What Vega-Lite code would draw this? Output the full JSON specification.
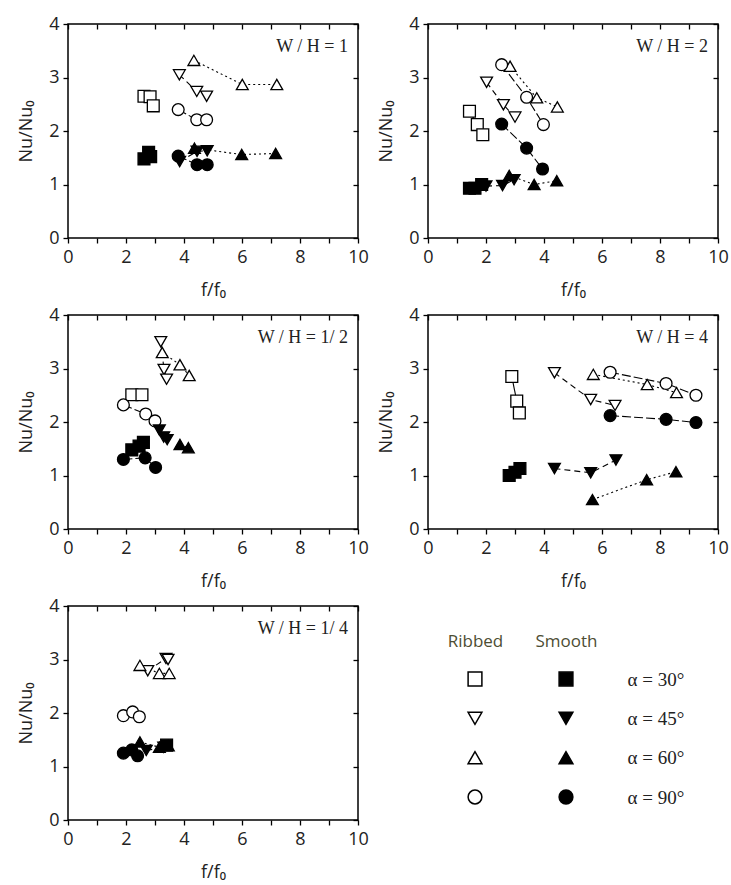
{
  "$schema": "https://vega.github.io/schema/vega-lite/v6.json",
  "padding": {"left": 16, "top": 14, "right": 0, "bottom": 0},
  "background": "white",
  "bounds": "flush",
  "columns": 2,
  "spacing": {"row": 77, "column": 70},
  "datasets": {
    "pts": [
      {"panel": "1", "surface": "Ribbed", "angle": 30, "f": 2.62, "nu": 2.65},
      {"panel": "1", "surface": "Ribbed", "angle": 30, "f": 2.83, "nu": 2.64},
      {"panel": "1", "surface": "Ribbed", "angle": 30, "f": 2.94, "nu": 2.47},
      {"panel": "1", "surface": "Ribbed", "angle": 45, "f": 3.84, "nu": 3.05},
      {"panel": "1", "surface": "Ribbed", "angle": 45, "f": 4.44, "nu": 2.74},
      {"panel": "1", "surface": "Ribbed", "angle": 45, "f": 4.78, "nu": 2.65},
      {"panel": "1", "surface": "Ribbed", "angle": 60, "f": 4.34, "nu": 3.32},
      {"panel": "1", "surface": "Ribbed", "angle": 60, "f": 6.01, "nu": 2.87},
      {"panel": "1", "surface": "Ribbed", "angle": 60, "f": 7.2, "nu": 2.87},
      {"panel": "1", "surface": "Ribbed", "angle": 90, "f": 3.8, "nu": 2.4},
      {"panel": "1", "surface": "Ribbed", "angle": 90, "f": 4.44, "nu": 2.21},
      {"panel": "1", "surface": "Ribbed", "angle": 90, "f": 4.78, "nu": 2.21},
      {"panel": "1", "surface": "Smooth", "angle": 30, "f": 2.62, "nu": 1.48},
      {"panel": "1", "surface": "Smooth", "angle": 30, "f": 2.78, "nu": 1.6},
      {"panel": "1", "surface": "Smooth", "angle": 30, "f": 2.85, "nu": 1.52},
      {"panel": "1", "surface": "Smooth", "angle": 45, "f": 3.85, "nu": 1.43},
      {"panel": "1", "surface": "Smooth", "angle": 45, "f": 4.45, "nu": 1.62},
      {"panel": "1", "surface": "Smooth", "angle": 45, "f": 4.8, "nu": 1.63},
      {"panel": "1", "surface": "Smooth", "angle": 60, "f": 4.36, "nu": 1.68},
      {"panel": "1", "surface": "Smooth", "angle": 60, "f": 5.99, "nu": 1.56},
      {"panel": "1", "surface": "Smooth", "angle": 60, "f": 7.16, "nu": 1.58},
      {"panel": "1", "surface": "Smooth", "angle": 90, "f": 3.8, "nu": 1.53},
      {"panel": "1", "surface": "Smooth", "angle": 90, "f": 4.45, "nu": 1.37},
      {"panel": "1", "surface": "Smooth", "angle": 90, "f": 4.8, "nu": 1.37},

      {"panel": "2", "surface": "Ribbed", "angle": 30, "f": 1.43, "nu": 2.37},
      {"panel": "2", "surface": "Ribbed", "angle": 30, "f": 1.7, "nu": 2.12},
      {"panel": "2", "surface": "Ribbed", "angle": 30, "f": 1.89, "nu": 1.93},
      {"panel": "2", "surface": "Ribbed", "angle": 45, "f": 2.02, "nu": 2.91},
      {"panel": "2", "surface": "Ribbed", "angle": 45, "f": 2.6, "nu": 2.49},
      {"panel": "2", "surface": "Ribbed", "angle": 45, "f": 3.0, "nu": 2.26},
      {"panel": "2", "surface": "Ribbed", "angle": 60, "f": 2.83, "nu": 3.21},
      {"panel": "2", "surface": "Ribbed", "angle": 60, "f": 3.75, "nu": 2.62},
      {"panel": "2", "surface": "Ribbed", "angle": 60, "f": 4.46, "nu": 2.45},
      {"panel": "2", "surface": "Ribbed", "angle": 90, "f": 2.54, "nu": 3.24},
      {"panel": "2", "surface": "Ribbed", "angle": 90, "f": 3.4, "nu": 2.63},
      {"panel": "2", "surface": "Ribbed", "angle": 90, "f": 3.98, "nu": 2.12},
      {"panel": "2", "surface": "Smooth", "angle": 30, "f": 1.43, "nu": 0.93},
      {"panel": "2", "surface": "Smooth", "angle": 30, "f": 1.62, "nu": 0.93},
      {"panel": "2", "surface": "Smooth", "angle": 30, "f": 1.85, "nu": 1.0},
      {"panel": "2", "surface": "Smooth", "angle": 45, "f": 2.0, "nu": 0.97},
      {"panel": "2", "surface": "Smooth", "angle": 45, "f": 2.57, "nu": 0.98},
      {"panel": "2", "surface": "Smooth", "angle": 45, "f": 2.97, "nu": 1.09},
      {"panel": "2", "surface": "Smooth", "angle": 60, "f": 2.8, "nu": 1.17},
      {"panel": "2", "surface": "Smooth", "angle": 60, "f": 3.66, "nu": 1.0},
      {"panel": "2", "surface": "Smooth", "angle": 60, "f": 4.44, "nu": 1.07},
      {"panel": "2", "surface": "Smooth", "angle": 90, "f": 2.54, "nu": 2.13},
      {"panel": "2", "surface": "Smooth", "angle": 90, "f": 3.4, "nu": 1.68},
      {"panel": "2", "surface": "Smooth", "angle": 90, "f": 3.95, "nu": 1.29},

      {"panel": "1/2", "surface": "Ribbed", "angle": 30, "f": 2.2, "nu": 2.51},
      {"panel": "1/2", "surface": "Ribbed", "angle": 30, "f": 2.55, "nu": 2.51},
      {"panel": "1/2", "surface": "Ribbed", "angle": 45, "f": 3.2, "nu": 3.5},
      {"panel": "1/2", "surface": "Ribbed", "angle": 45, "f": 3.31, "nu": 2.98},
      {"panel": "1/2", "surface": "Ribbed", "angle": 45, "f": 3.4, "nu": 2.8},
      {"panel": "1/2", "surface": "Ribbed", "angle": 60, "f": 3.25, "nu": 3.3},
      {"panel": "1/2", "surface": "Ribbed", "angle": 60, "f": 3.86, "nu": 3.07},
      {"panel": "1/2", "surface": "Ribbed", "angle": 60, "f": 4.18, "nu": 2.87},
      {"panel": "1/2", "surface": "Ribbed", "angle": 90, "f": 1.91, "nu": 2.32},
      {"panel": "1/2", "surface": "Ribbed", "angle": 90, "f": 2.68, "nu": 2.15},
      {"panel": "1/2", "surface": "Ribbed", "angle": 90, "f": 3.0, "nu": 2.02},
      {"panel": "1/2", "surface": "Smooth", "angle": 30, "f": 2.2, "nu": 1.48},
      {"panel": "1/2", "surface": "Smooth", "angle": 30, "f": 2.45, "nu": 1.55},
      {"panel": "1/2", "surface": "Smooth", "angle": 30, "f": 2.6, "nu": 1.62},
      {"panel": "1/2", "surface": "Smooth", "angle": 45, "f": 3.15, "nu": 1.85},
      {"panel": "1/2", "surface": "Smooth", "angle": 45, "f": 3.3, "nu": 1.72},
      {"panel": "1/2", "surface": "Smooth", "angle": 45, "f": 3.42, "nu": 1.67},
      {"panel": "1/2", "surface": "Smooth", "angle": 60, "f": 3.86, "nu": 1.58},
      {"panel": "1/2", "surface": "Smooth", "angle": 60, "f": 4.15, "nu": 1.52},
      {"panel": "1/2", "surface": "Smooth", "angle": 90, "f": 1.91, "nu": 1.3},
      {"panel": "1/2", "surface": "Smooth", "angle": 90, "f": 2.66, "nu": 1.33},
      {"panel": "1/2", "surface": "Smooth", "angle": 90, "f": 3.02, "nu": 1.15},

      {"panel": "4", "surface": "Ribbed", "angle": 30, "f": 2.89, "nu": 2.85},
      {"panel": "4", "surface": "Ribbed", "angle": 30, "f": 3.06, "nu": 2.39},
      {"panel": "4", "surface": "Ribbed", "angle": 30, "f": 3.15, "nu": 2.17},
      {"panel": "4", "surface": "Ribbed", "angle": 45, "f": 4.36, "nu": 2.92},
      {"panel": "4", "surface": "Ribbed", "angle": 45, "f": 5.61, "nu": 2.42},
      {"panel": "4", "surface": "Ribbed", "angle": 45, "f": 6.45, "nu": 2.31},
      {"panel": "4", "surface": "Ribbed", "angle": 60, "f": 5.7, "nu": 2.89},
      {"panel": "4", "surface": "Ribbed", "angle": 60, "f": 7.56, "nu": 2.7},
      {"panel": "4", "surface": "Ribbed", "angle": 60, "f": 8.57, "nu": 2.55},
      {"panel": "4", "surface": "Ribbed", "angle": 90, "f": 6.28, "nu": 2.93},
      {"panel": "4", "surface": "Ribbed", "angle": 90, "f": 8.21, "nu": 2.72},
      {"panel": "4", "surface": "Ribbed", "angle": 90, "f": 9.24, "nu": 2.5},
      {"panel": "4", "surface": "Smooth", "angle": 30, "f": 2.8, "nu": 1.0},
      {"panel": "4", "surface": "Smooth", "angle": 30, "f": 3.0, "nu": 1.06},
      {"panel": "4", "surface": "Smooth", "angle": 30, "f": 3.17, "nu": 1.13},
      {"panel": "4", "surface": "Smooth", "angle": 45, "f": 4.36, "nu": 1.13},
      {"panel": "4", "surface": "Smooth", "angle": 45, "f": 5.61, "nu": 1.05},
      {"panel": "4", "surface": "Smooth", "angle": 45, "f": 6.48, "nu": 1.29},
      {"panel": "4", "surface": "Smooth", "angle": 60, "f": 5.67, "nu": 0.55},
      {"panel": "4", "surface": "Smooth", "angle": 60, "f": 7.54, "nu": 0.92},
      {"panel": "4", "surface": "Smooth", "angle": 60, "f": 8.55, "nu": 1.07},
      {"panel": "4", "surface": "Smooth", "angle": 90, "f": 6.28, "nu": 2.12},
      {"panel": "4", "surface": "Smooth", "angle": 90, "f": 8.21, "nu": 2.05},
      {"panel": "4", "surface": "Smooth", "angle": 90, "f": 9.24, "nu": 1.99},

      {"panel": "1/4", "surface": "Ribbed", "angle": 45, "f": 2.75, "nu": 2.79},
      {"panel": "1/4", "surface": "Ribbed", "angle": 45, "f": 3.38, "nu": 3.02},
      {"panel": "1/4", "surface": "Ribbed", "angle": 45, "f": 3.45, "nu": 3.0},
      {"panel": "1/4", "surface": "Ribbed", "angle": 60, "f": 2.48, "nu": 2.89},
      {"panel": "1/4", "surface": "Ribbed", "angle": 60, "f": 3.15, "nu": 2.74},
      {"panel": "1/4", "surface": "Ribbed", "angle": 60, "f": 3.49, "nu": 2.74},
      {"panel": "1/4", "surface": "Ribbed", "angle": 90, "f": 1.91, "nu": 1.95},
      {"panel": "1/4", "surface": "Ribbed", "angle": 90, "f": 2.23, "nu": 2.02},
      {"panel": "1/4", "surface": "Ribbed", "angle": 90, "f": 2.46, "nu": 1.93},
      {"panel": "1/4", "surface": "Smooth", "angle": 30, "f": 3.4, "nu": 1.4},
      {"panel": "1/4", "surface": "Smooth", "angle": 45, "f": 2.7, "nu": 1.3},
      {"panel": "1/4", "surface": "Smooth", "angle": 45, "f": 3.3, "nu": 1.36},
      {"panel": "1/4", "surface": "Smooth", "angle": 60, "f": 2.48, "nu": 1.46},
      {"panel": "1/4", "surface": "Smooth", "angle": 60, "f": 3.15, "nu": 1.36},
      {"panel": "1/4", "surface": "Smooth", "angle": 60, "f": 3.46, "nu": 1.39},
      {"panel": "1/4", "surface": "Smooth", "angle": 90, "f": 1.91, "nu": 1.25},
      {"panel": "1/4", "surface": "Smooth", "angle": 90, "f": 2.2, "nu": 1.31},
      {"panel": "1/4", "surface": "Smooth", "angle": 90, "f": 2.4, "nu": 1.2}
    ],
    "legend": [
      {"surface": "Ribbed", "angle": 30}, {"surface": "Smooth", "angle": 30},
      {"surface": "Ribbed", "angle": 45}, {"surface": "Smooth", "angle": 45},
      {"surface": "Ribbed", "angle": 60}, {"surface": "Smooth", "angle": 60},
      {"surface": "Ribbed", "angle": 90}, {"surface": "Smooth", "angle": 90}
    ]
  },
  "concat": [
    {
      "width": 290, "height": 214,
      "data": {"name": "pts"},
      "transform": [{"filter": "datum.panel === '1'"}],
      "title": {"text": "W / H = 1", "anchor": "end", "frame": "group", "baseline": "middle", "offset": -19, "dx": -10, "dy": 31, "font": "Liberation Serif", "fontSize": 18, "fontWeight": "normal", "color": "#222"},
      "layer": [
        {"mark": {"type": "line", "color": "black", "strokeWidth": 1.1},
         "encoding": {
           "x": {"field": "f", "type": "quantitative", "scale": {"domain": [0, 10]}, "axis": {"orient": "bottom", "values": [0,1,2,3,4,5,6,7,8,9,10], "labelExpr": "datum.value % 2 === 0 ? datum.label : ''", "tickSize": 5, "labelPadding": 5, "labelFlush": false, "labelOverlap": false, "title": "f/f₀", "titlePadding": 15}},
           "y": {"field": "nu", "type": "quantitative", "scale": {"domain": [0, 4]}, "axis": {"orient": "left", "values": [0,1,2,3,4], "tickSize": 5, "labelPadding": 4, "labelFlush": false, "title": "Nu/Nu₀", "titlePadding": 13}},
           "detail": {"field": "surface", "type": "nominal"},
           "strokeDash": {"field": "angle", "type": "nominal", "scale": {"domain": [30,45,60,90], "range": [[1,0],[6,4],[2,3],[9,3]]}}
         }},
        {"mark": {"type": "point", "filled": true, "stroke": "black", "strokeWidth": 1.3, "size": 140, "opacity": 1},
         "encoding": {
           "x": {"field": "f", "type": "quantitative", "axis": {"orient": "top", "values": [0,1,2,3,4,5,6,7,8,9,10], "labels": false, "tickSize": -5, "title": null}},
           "y": {"field": "nu", "type": "quantitative", "axis": {"orient": "right", "values": [0,1,2,3,4], "labels": false, "tickSize": -5, "title": null}},
           "shape": {"field": "angle", "type": "nominal", "scale": {"domain": [30,45,60,90], "range": ["square","triangle-down","triangle-up","circle"]}},
           "fill": {"field": "surface", "type": "nominal", "scale": {"domain": ["Ribbed","Smooth"], "range": ["white","black"]}}
         }}
      ],
      "resolve": {"axis": {"x": "independent", "y": "independent"}}
    },
    {
      "width": 290, "height": 214,
      "data": {"name": "pts"},
      "transform": [{"filter": "datum.panel === '2'"}],
      "title": {"text": "W / H = 2", "anchor": "end", "frame": "group", "baseline": "middle", "offset": -19, "dx": -10, "dy": 31, "font": "Liberation Serif", "fontSize": 18, "fontWeight": "normal", "color": "#222"},
      "layer": [
        {"mark": {"type": "line", "color": "black", "strokeWidth": 1.1},
         "encoding": {
           "x": {"field": "f", "type": "quantitative", "scale": {"domain": [0, 10]}, "axis": {"orient": "bottom", "values": [0,1,2,3,4,5,6,7,8,9,10], "labelExpr": "datum.value % 2 === 0 ? datum.label : ''", "tickSize": 5, "labelPadding": 5, "labelFlush": false, "labelOverlap": false, "title": "f/f₀", "titlePadding": 15}},
           "y": {"field": "nu", "type": "quantitative", "scale": {"domain": [0, 4]}, "axis": {"orient": "left", "values": [0,1,2,3,4], "tickSize": 5, "labelPadding": 4, "labelFlush": false, "title": "Nu/Nu₀", "titlePadding": 13}},
           "detail": {"field": "surface", "type": "nominal"},
           "strokeDash": {"field": "angle", "type": "nominal", "scale": {"domain": [30,45,60,90], "range": [[1,0],[6,4],[2,3],[9,3]]}}
         }},
        {"mark": {"type": "point", "filled": true, "stroke": "black", "strokeWidth": 1.3, "size": 140, "opacity": 1},
         "encoding": {
           "x": {"field": "f", "type": "quantitative", "axis": {"orient": "top", "values": [0,1,2,3,4,5,6,7,8,9,10], "labels": false, "tickSize": -5, "title": null}},
           "y": {"field": "nu", "type": "quantitative", "axis": {"orient": "right", "values": [0,1,2,3,4], "labels": false, "tickSize": -5, "title": null}},
           "shape": {"field": "angle", "type": "nominal", "scale": {"domain": [30,45,60,90], "range": ["square","triangle-down","triangle-up","circle"]}},
           "fill": {"field": "surface", "type": "nominal", "scale": {"domain": ["Ribbed","Smooth"], "range": ["white","black"]}}
         }}
      ],
      "resolve": {"axis": {"x": "independent", "y": "independent"}}
    },
    {
      "width": 290, "height": 214,
      "data": {"name": "pts"},
      "transform": [{"filter": "datum.panel === '1/2'"}],
      "title": {"text": "W / H = 1/ 2", "anchor": "end", "frame": "group", "baseline": "middle", "offset": -19, "dx": -10, "dy": 31, "font": "Liberation Serif", "fontSize": 18, "fontWeight": "normal", "color": "#222"},
      "layer": [
        {"mark": {"type": "line", "color": "black", "strokeWidth": 1.1},
         "encoding": {
           "x": {"field": "f", "type": "quantitative", "scale": {"domain": [0, 10]}, "axis": {"orient": "bottom", "values": [0,1,2,3,4,5,6,7,8,9,10], "labelExpr": "datum.value % 2 === 0 ? datum.label : ''", "tickSize": 5, "labelPadding": 5, "labelFlush": false, "labelOverlap": false, "title": "f/f₀", "titlePadding": 15}},
           "y": {"field": "nu", "type": "quantitative", "scale": {"domain": [0, 4]}, "axis": {"orient": "left", "values": [0,1,2,3,4], "tickSize": 5, "labelPadding": 4, "labelFlush": false, "title": "Nu/Nu₀", "titlePadding": 13}},
           "detail": {"field": "surface", "type": "nominal"},
           "strokeDash": {"field": "angle", "type": "nominal", "scale": {"domain": [30,45,60,90], "range": [[1,0],[6,4],[2,3],[9,3]]}}
         }},
        {"mark": {"type": "point", "filled": true, "stroke": "black", "strokeWidth": 1.3, "size": 140, "opacity": 1},
         "encoding": {
           "x": {"field": "f", "type": "quantitative", "axis": {"orient": "top", "values": [0,1,2,3,4,5,6,7,8,9,10], "labels": false, "tickSize": -5, "title": null}},
           "y": {"field": "nu", "type": "quantitative", "axis": {"orient": "right", "values": [0,1,2,3,4], "labels": false, "tickSize": -5, "title": null}},
           "shape": {"field": "angle", "type": "nominal", "scale": {"domain": [30,45,60,90], "range": ["square","triangle-down","triangle-up","circle"]}},
           "fill": {"field": "surface", "type": "nominal", "scale": {"domain": ["Ribbed","Smooth"], "range": ["white","black"]}}
         }}
      ],
      "resolve": {"axis": {"x": "independent", "y": "independent"}}
    },
    {
      "width": 290, "height": 214,
      "data": {"name": "pts"},
      "transform": [{"filter": "datum.panel === '4'"}],
      "title": {"text": "W / H = 4", "anchor": "end", "frame": "group", "baseline": "middle", "offset": -19, "dx": -10, "dy": 31, "font": "Liberation Serif", "fontSize": 18, "fontWeight": "normal", "color": "#222"},
      "layer": [
        {"mark": {"type": "line", "color": "black", "strokeWidth": 1.1},
         "encoding": {
           "x": {"field": "f", "type": "quantitative", "scale": {"domain": [0, 10]}, "axis": {"orient": "bottom", "values": [0,1,2,3,4,5,6,7,8,9,10], "labelExpr": "datum.value % 2 === 0 ? datum.label : ''", "tickSize": 5, "labelPadding": 5, "labelFlush": false, "labelOverlap": false, "title": "f/f₀", "titlePadding": 15}},
           "y": {"field": "nu", "type": "quantitative", "scale": {"domain": [0, 4]}, "axis": {"orient": "left", "values": [0,1,2,3,4], "tickSize": 5, "labelPadding": 4, "labelFlush": false, "title": "Nu/Nu₀", "titlePadding": 13}},
           "detail": {"field": "surface", "type": "nominal"},
           "strokeDash": {"field": "angle", "type": "nominal", "scale": {"domain": [30,45,60,90], "range": [[1,0],[6,4],[2,3],[9,3]]}}
         }},
        {"mark": {"type": "point", "filled": true, "stroke": "black", "strokeWidth": 1.3, "size": 140, "opacity": 1},
         "encoding": {
           "x": {"field": "f", "type": "quantitative", "axis": {"orient": "top", "values": [0,1,2,3,4,5,6,7,8,9,10], "labels": false, "tickSize": -5, "title": null}},
           "y": {"field": "nu", "type": "quantitative", "axis": {"orient": "right", "values": [0,1,2,3,4], "labels": false, "tickSize": -5, "title": null}},
           "shape": {"field": "angle", "type": "nominal", "scale": {"domain": [30,45,60,90], "range": ["square","triangle-down","triangle-up","circle"]}},
           "fill": {"field": "surface", "type": "nominal", "scale": {"domain": ["Ribbed","Smooth"], "range": ["white","black"]}}
         }}
      ],
      "resolve": {"axis": {"x": "independent", "y": "independent"}}
    },
    {
      "width": 290, "height": 214,
      "data": {"name": "pts"},
      "transform": [{"filter": "datum.panel === '1/4'"}],
      "title": {"text": "W / H = 1/ 4", "anchor": "end", "frame": "group", "baseline": "middle", "offset": -19, "dx": -10, "dy": 31, "font": "Liberation Serif", "fontSize": 18, "fontWeight": "normal", "color": "#222"},
      "layer": [
        {"mark": {"type": "line", "color": "black", "strokeWidth": 1.1},
         "encoding": {
           "x": {"field": "f", "type": "quantitative", "scale": {"domain": [0, 10]}, "axis": {"orient": "bottom", "values": [0,1,2,3,4,5,6,7,8,9,10], "labelExpr": "datum.value % 2 === 0 ? datum.label : ''", "tickSize": 5, "labelPadding": 5, "labelFlush": false, "labelOverlap": false, "title": "f/f₀", "titlePadding": 15}},
           "y": {"field": "nu", "type": "quantitative", "scale": {"domain": [0, 4]}, "axis": {"orient": "left", "values": [0,1,2,3,4], "tickSize": 5, "labelPadding": 4, "labelFlush": false, "title": "Nu/Nu₀", "titlePadding": 13}},
           "detail": {"field": "surface", "type": "nominal"},
           "strokeDash": {"field": "angle", "type": "nominal", "scale": {"domain": [30,45,60,90], "range": [[1,0],[6,4],[2,3],[9,3]]}}
         }},
        {"mark": {"type": "point", "filled": true, "stroke": "black", "strokeWidth": 1.3, "size": 140, "opacity": 1},
         "encoding": {
           "x": {"field": "f", "type": "quantitative", "axis": {"orient": "top", "values": [0,1,2,3,4,5,6,7,8,9,10], "labels": false, "tickSize": -5, "title": null}},
           "y": {"field": "nu", "type": "quantitative", "axis": {"orient": "right", "values": [0,1,2,3,4], "labels": false, "tickSize": -5, "title": null}},
           "shape": {"field": "angle", "type": "nominal", "scale": {"domain": [30,45,60,90], "range": ["square","triangle-down","triangle-up","circle"]}},
           "fill": {"field": "surface", "type": "nominal", "scale": {"domain": ["Ribbed","Smooth"], "range": ["white","black"]}}
         }}
      ],
      "resolve": {"axis": {"x": "independent", "y": "independent"}}
    },
    {
      "width": 199, "height": 214,
      "data": {"name": "legend"},
      "view": {"stroke": null},
      "mark": {"type": "point", "filled": true, "stroke": "black", "strokeWidth": 1.5, "size": 190, "opacity": 1},
      "encoding": {
        "x": {"field": "surface", "type": "nominal", "scale": {"type": "point", "range": [47, 138], "padding": 0}, "axis": {"orient": "top", "title": null, "domain": false, "ticks": false, "labelAngle": 0, "labelPadding": -35, "labelBaseline": "middle", "labelFontSize": 17, "labelColor": "#4d4d33"}},
        "y": {"field": "angle", "type": "nominal", "scale": {"type": "point", "range": [73, 191], "padding": 0}, "axis": {"orient": "right", "title": null, "domain": false, "ticks": false, "labelFont": "Liberation Serif", "labelFontSize": 19, "labelExpr": "'α = ' + datum.label + '°'", "labelPadding": 0}},
        "shape": {"field": "angle", "type": "nominal", "scale": {"domain": [30,45,60,90], "range": ["square","triangle-down","triangle-up","circle"]}},
        "fill": {"field": "surface", "type": "nominal", "scale": {"domain": ["Ribbed","Smooth"], "range": ["white","black"]}}
      }
    }
  ],
  "config": {
    "view": {"stroke": "black", "strokeWidth": 1.5},
    "legend": {"disable": true},
    "axis": {"domain": false, "grid": false, "labelFont": "Open Sans", "labelFontSize": 18, "labelColor": "#222", "titleFont": "Open Sans", "titleFontSize": 18, "titleFontWeight": "normal", "titleColor": "#222", "tickColor": "black", "tickWidth": 1.3}
  }
}
